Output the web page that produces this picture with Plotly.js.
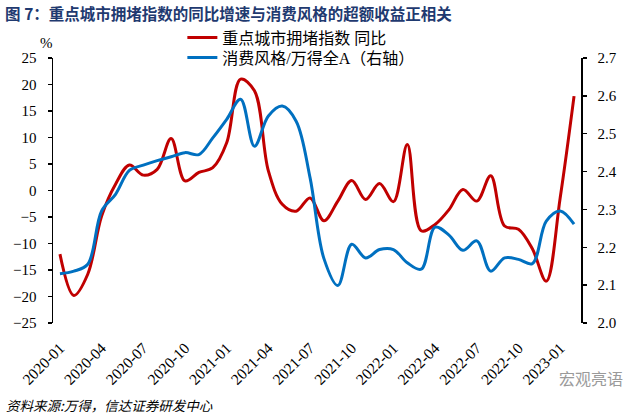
<!DOCTYPE html>
<html>
<head>
<meta charset="utf-8">
<script src="https://cdn.plot.ly/plotly-3.0.1.min.js"></script>
<style>html,body{margin:0;padding:0;background:#fff;}#chart{width:640px;height:418px;}</style>
</head>
<body>
<div id="chart"></div>
<script>
// Months (category axis)
const months = ["2020-01","2020-02","2020-03","2020-04","2020-05","2020-06","2020-07","2020-08","2020-09","2020-10","2020-11","2020-12",
"2021-01","2021-02","2021-03","2021-04","2021-05","2021-06","2021-07","2021-08","2021-09","2021-10","2021-11","2021-12",
"2022-01","2022-02","2022-03","2022-04","2022-05","2022-06","2022-07","2022-08","2022-09","2022-10","2022-11","2022-12",
"2023-01","2023-02"];
// 重点城市拥堵指数 同比 (%), left axis
const congestionYoY = [-12.0,-19.8,-15.8,-4.8,1.2,4.8,2.9,4.0,9.8,1.8,3.4,4.3,
9.0,21.0,18.8,3.7,-2.6,-3.9,-1.4,-5.7,-2.0,1.9,-1.7,1.3,
-2.1,8.7,-7.6,-6.4,-3.6,0.2,-2.0,2.8,-6.7,-7.3,-11.0,-17.1,-1.4,17.8];
// 消费风格/万得全A, right axis
const consumerRatio = [2.130,2.137,2.155,2.296,2.340,2.403,2.417,2.429,2.439,2.450,2.445,2.489,
2.538,2.591,2.467,2.547,2.573,2.533,2.384,2.170,2.099,2.208,2.172,2.194,
2.194,2.159,2.142,2.253,2.232,2.192,2.217,2.137,2.172,2.168,2.157,2.269,2.296,2.261];
// Tick labels every 3 months
const tickLabels = ["2020-01","2020-04","2020-07","2020-10","2021-01","2021-04","2021-07","2021-10","2022-01","2022-04","2022-07","2022-10","2023-01"];
const seriesNames = ["重点城市拥堵指数 同比","消费风格/万得全A（右轴）"];

const idx = months.map((m,i)=>i);
const tickVals = tickLabels.map(t=>months.indexOf(t));
const boundaryTicks = tickVals.slice(1).map(v=>v-0.5);

const serif = "Liberation Serif, Times New Roman, Noto Sans CJK SC, serif";
const cjk = "Liberation Serif, Noto Sans CJK SC, sans-serif";

const traces = [
  {x: idx, y: congestionYoY, type:'scatter', mode:'lines', name: seriesNames[0], legend:'legend',
   line:{color:'#C00000', width:3, shape:'spline', smoothing:1}, xaxis:'x', yaxis:'y'},
  {x: idx, y: consumerRatio, type:'scatter', mode:'lines', name: seriesNames[1], legend:'legend2',
   line:{color:'#0070C0', width:3, shape:'spline', smoothing:1}, xaxis:'x', yaxis:'y2'}
];

const legendCommon = {xanchor:'left', yanchor:'top', bgcolor:'rgba(0,0,0,0)',
  font:{family:cjk, size:16, color:'#000'}, itemwidth:30};

const layout = {
  width:640, height:418,
  margin:{l:53, r:59, t:58, b:95, pad:0},
  paper_bgcolor:'#fff', plot_bgcolor:'#fff',
  showlegend:true,
  title:{text:'图 7：重点城市拥堵指数的同比增速与消费风格的超额收益正相关',
    x:0.008, xref:'container', xanchor:'left', y:0.966, yref:'container', yanchor:'middle',
    font:{family:'Noto Sans CJK SC, sans-serif', size:15.5, color:'#1F3A70', weight:'bold'}},
  legend: Object.assign({x:0.245, y:1.141}, legendCommon),
  legend2: Object.assign({x:0.245, y:1.066}, legendCommon),
  xaxis:{range:[-0.5, months.length-0.5], tickmode:'array', tickvals:tickVals, ticktext:tickLabels,
    tickangle:-45, ticks:'', showline:false, showgrid:false, zeroline:false, ticklabelstandoff:12,
    tickfont:{family:serif, size:15.5, color:'#000'}},
  xaxis2:{overlaying:'x', anchor:'free', position:0.5, range:[-0.5, months.length-0.5],
    tickmode:'array', tickvals:boundaryTicks, ticks:'outside', ticklen:4, tickwidth:1.5, tickcolor:'#000',
    showticklabels:false, showline:true, linecolor:'#000', linewidth:1.5, showgrid:false, zeroline:false},
  yaxis:{range:[-25,25], tickmode:'linear', tick0:-25, dtick:5, ticks:'outside', ticklen:4, tickwidth:1.5,
    tickcolor:'#000', showline:true, linecolor:'#000', linewidth:1.5, showgrid:false, zeroline:false,
    ticklabelstandoff:8, tickfont:{family:serif, size:15, color:'#000'}},
  yaxis2:{overlaying:'y', side:'right', range:[2.0,2.7], tickmode:'linear', tick0:2.0, dtick:0.1, tickformat:'.1f',
    ticks:'outside', ticklen:4, tickwidth:1.5, tickcolor:'#000', showline:true, linecolor:'#000', linewidth:1.5,
    showgrid:false, zeroline:false, ticklabelstandoff:8, tickfont:{family:serif, size:15, color:'#000'}},
  annotations:[
    {text:'%', xref:'paper', yref:'paper', x:-0.013, y:1.058, xanchor:'center', yanchor:'middle', showarrow:false,
     font:{family:serif, size:15, color:'#000'}},
    {text:'资料来源:万得，信达证券研发中心', xref:'paper', yref:'paper', x:-0.092, y:-0.308, xanchor:'left', yanchor:'middle',
     showarrow:false, font:{family:'Noto Sans CJK SC, sans-serif', size:13.5, color:'#000', style:'italic'}},
    {text:'宏观亮语', xref:'paper', yref:'paper', x:0.955, y:-0.206, xanchor:'left', yanchor:'middle',
     showarrow:false, font:{family:'Noto Sans CJK SC, sans-serif', size:16, color:'#9a9a9a'}}
  ]
};

Plotly.newPlot('chart', traces, layout, {displayModeBar:false, staticPlot:true});
</script>
</body>
</html>
